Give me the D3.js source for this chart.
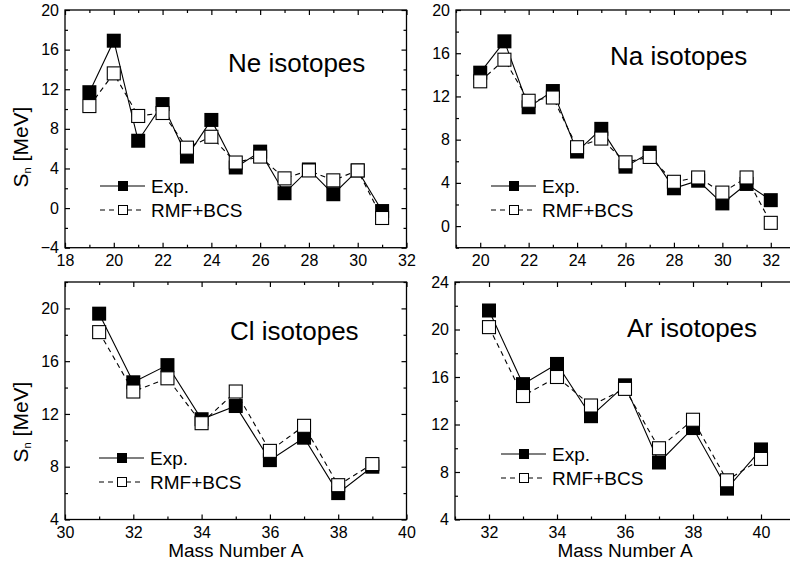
<!DOCTYPE html>
<html>
<head>
<meta charset="utf-8">
<script src="https://cdn.jsdelivr.net/npm/d3@7"></script>
<style>
  body { margin: 0; background: #fff; }
  svg { display: block; font-family: "Liberation Sans", Arial, sans-serif; }
  .frame { fill: none; stroke: #000; stroke-width: 1.3; }
  .axis path.domain { display: none; }
  .axis line { stroke: #000; stroke-width: 1.2; }
  .axis text { fill: #000; font-family: "Liberation Sans", Arial, sans-serif; }
</style>
</head>
<body>
<svg id="chart" width="790" height="578"></svg>
<script>
// separation energies
var neMass = [19, 20, 21, 22, 23, 24, 25, 26, 27, 28, 29, 30, 31];
var neExp  = [11.7, 16.9, 6.8, 10.5, 5.2, 8.9, 4.1, 5.7, 1.5, 3.9, 1.4, 3.8, -0.3];
var neRmf  = [10.3, 13.6, 9.3, 9.6, 6.1, 7.2, 4.6, 5.2, 3.0, 3.8, 2.8, 3.8, -1.0];

var naMass = [20, 21, 22, 23, 24, 25, 26, 27, 28, 29, 30, 31, 32];
var naExp  = [14.2, 17.1, 11.0, 12.5, 6.9, 9.0, 5.5, 6.8, 3.5, 4.2, 2.1, 3.9, 2.4];
var naRmf  = [13.4, 15.4, 11.6, 11.9, 7.3, 8.1, 5.9, 6.4, 4.1, 4.5, 3.1, 4.5, 0.3];

var clMass = [31, 32, 33, 34, 35, 36, 37, 38, 39];
var clExp  = [19.6, 14.4, 15.7, 11.6, 12.6, 8.5, 10.2, 6.0, 8.0];
var clRmf  = [18.2, 13.7, 14.7, 11.3, 13.7, 9.2, 11.1, 6.6, 8.2];

var arMass = [32, 33, 34, 35, 36, 37, 38, 39, 40];
var arExp  = [21.6, 15.4, 17.1, 12.7, 15.3, 8.8, 11.7, 6.6, 9.9];
var arRmf  = [20.2, 14.4, 16.0, 13.6, 15.0, 10.0, 12.4, 7.3, 9.1];

// tick labels
var neXTicks = [18, 20, 22, 24, 26, 28, 30, 32];
var neYTicks = [-4, 0, 4, 8, 12, 16, 20];
var naXTicks = [20, 22, 24, 26, 28, 30, 32];
var naYTicks = [0, 4, 8, 12, 16, 20];
var clXTicks = [30, 32, 34, 36, 38, 40];
var clYTicks = [4, 8, 12, 16, 20];
var arXTicks = [32, 34, 36, 38, 40];
var arYTicks = [4, 8, 12, 16, 20, 24];

var legendNames = ['Exp.', 'RMF+BCS'];

var svg = d3.select('#chart');

function panel(o) {
  var
    x = d3.scaleLinear().domain(o.xDom).range([o.left, o.right]),
    y = d3.scaleLinear().domain(o.yDom).range([o.bottom, o.top]),
    g = svg.append('g'),
    xMinor = d3.range(o.xDom[0], o.xDom[1] + 0.01, 1).filter(v => o.xTicks.indexOf(v) < 0),
    yMinor = d3.range(o.yDom[0], o.yDom[1] + 0.01, 2).filter(v => o.yTicks.indexOf(v) < 0),
    exp = o.mass.map((m, i) => ({m: m, v: o.exp[i]})),
    rmf = o.mass.map((m, i) => ({m: m, v: o.rmf[i]})),
    line = d3.line().x(d => x(d.m)).y(d => y(d.v)),
    ms = 14
    ;

  // major + minor ticks on all four sides, pointing in
  g.append('g').attr('class', 'axis')
    .attr('transform', 'translate(0,' + o.bottom + ')')
    .call(d3.axisBottom(x).tickValues(o.xTicks).tickSize(-5).tickPadding(7).tickFormat(d3.format('d')));
  g.append('g').attr('class', 'axis')
    .attr('transform', 'translate(0,' + o.bottom + ')')
    .call(d3.axisBottom(x).tickValues(xMinor).tickSize(-3).tickFormat(''));
  g.append('g').attr('class', 'axis')
    .attr('transform', 'translate(0,' + o.top + ')')
    .call(d3.axisTop(x).tickValues(o.xTicks).tickSize(-5).tickFormat(''));
  g.append('g').attr('class', 'axis')
    .attr('transform', 'translate(0,' + o.top + ')')
    .call(d3.axisTop(x).tickValues(xMinor).tickSize(-3).tickFormat(''));

  g.append('g').attr('class', 'axis')
    .attr('transform', 'translate(' + o.left + ',0)')
    .call(d3.axisLeft(y).tickValues(o.yTicks).tickSize(-5).tickPadding(6).tickFormat(d3.format('d')));
  g.append('g').attr('class', 'axis')
    .attr('transform', 'translate(' + o.left + ',0)')
    .call(d3.axisLeft(y).tickValues(yMinor).tickSize(-3).tickFormat(''));
  g.append('g').attr('class', 'axis')
    .attr('transform', 'translate(' + o.right + ',0)')
    .call(d3.axisRight(y).tickValues(o.yTicks).tickSize(-5).tickFormat(''));
  g.append('g').attr('class', 'axis')
    .attr('transform', 'translate(' + o.right + ',0)')
    .call(d3.axisRight(y).tickValues(yMinor).tickSize(-3).tickFormat(''));

  g.selectAll('.axis text').style('font-size', '16px');

  g.append('rect')
    .attr('class', 'frame')
    .attr('x', o.left).attr('y', o.top)
    .attr('width', o.right - o.left).attr('height', o.bottom - o.top);

  // lines under the symbols
  g.append('path')
    .attr('d', line(exp))
    .attr('fill', 'none').attr('stroke', '#000').attr('stroke-width', 1.1);
  g.append('path')
    .attr('d', line(rmf))
    .attr('fill', 'none').attr('stroke', '#000').attr('stroke-width', 1.1)
    .attr('stroke-dasharray', '5,4');

  g.selectAll('rect.exp')
    .data(exp)
    .enter().append('rect')
    .attr('class', 'exp')
    .attr('x', d => x(d.m) - ms / 2).attr('y', d => y(d.v) - ms / 2)
    .attr('width', ms).attr('height', ms)
    .attr('fill', '#000');
  g.selectAll('rect.rmf')
    .data(rmf)
    .enter().append('rect')
    .attr('class', 'rmf')
    .attr('x', d => x(d.m) - ms / 2 + 0.5).attr('y', d => y(d.v) - ms / 2 + 0.5)
    .attr('width', ms - 1).attr('height', ms - 1)
    .attr('fill', '#fff').attr('stroke', '#000').attr('stroke-width', 1.1);

  // title inside the frame
  g.append('text')
    .attr('x', o.titleX).attr('y', o.titleY)
    .style('font-size', '26px')
    .text(o.title);

  // legend
  var lg = g.append('g').attr('transform', 'translate(' + o.legX + ',' + o.legY + ')');
  legendNames.forEach(function(name, i) {
    var row = lg.append('g').attr('transform', 'translate(0,' + (i * 24) + ')');
    row.append('line')
      .attr('x1', 0).attr('x2', 45).attr('y1', 0).attr('y2', 0)
      .attr('stroke', '#000').attr('stroke-width', 1.1)
      .attr('stroke-dasharray', i ? '5,4' : null);
    row.append('rect')
      .attr('x', 18.5).attr('y', -4.5).attr('width', 9).attr('height', 9)
      .attr('fill', i ? '#fff' : '#000')
      .attr('stroke', '#000').attr('stroke-width', 1);
    row.append('text')
      .attr('x', 51).attr('y', 0).attr('dy', '0.36em')
      .style('font-size', '19px')
      .text(name);
  });

  if (o.yLabel) {
    var t = g.append('text')
      .attr('transform', 'translate(28,' + o.yLabelY + ') rotate(-90)')
      .attr('text-anchor', 'middle')
      .style('font-size', '21px');
    t.append('tspan').text('S');
    t.append('tspan').attr('dy', 3).style('font-size', '11px').text('n');
    t.append('tspan').attr('dy', -3).text(' [MeV]');
  }
  if (o.xLabel) {
    g.append('text')
      .attr('x', (o.left + o.right) / 2).attr('y', 557)
      .attr('text-anchor', 'middle')
      .style('font-size', '19px')
      .text('Mass Number A');
  }
}

panel({mass: neMass, exp: neExp, rmf: neRmf, xDom: [18, 32], yDom: [-4, 20],
  xTicks: neXTicks, yTicks: neYTicks, left: 65, right: 406.5, top: 10, bottom: 247.7,
  title: 'Ne isotopes', titleX: 228, titleY: 72, legX: 100, legY: 186, yLabel: true, yLabelY: 147});
panel({mass: naMass, exp: naExp, rmf: naRmf, xDom: [19, 33], yDom: [-2, 20],
  xTicks: naXTicks, yTicks: naYTicks, left: 456, right: 795, top: 10, bottom: 247.7,
  title: 'Na isotopes', titleX: 610, titleY: 65, legX: 491, legY: 186});
panel({mass: clMass, exp: clExp, rmf: clRmf, xDom: [30, 40], yDom: [4, 22],
  xTicks: clXTicks, yTicks: clYTicks, left: 65, right: 406.5, top: 282, bottom: 519.5,
  title: 'Cl isotopes', titleX: 230, titleY: 340, legX: 99, legY: 458, yLabel: true, yLabelY: 422, xLabel: true});
panel({mass: arMass, exp: arExp, rmf: arRmf, xDom: [31, 41], yDom: [4, 24],
  xTicks: arXTicks, yTicks: arYTicks, left: 455, right: 795, top: 282, bottom: 519.5,
  title: 'Ar isotopes', titleX: 627, titleY: 337, legX: 501, legY: 454, xLabel: true});
</script>
</body>
</html>
